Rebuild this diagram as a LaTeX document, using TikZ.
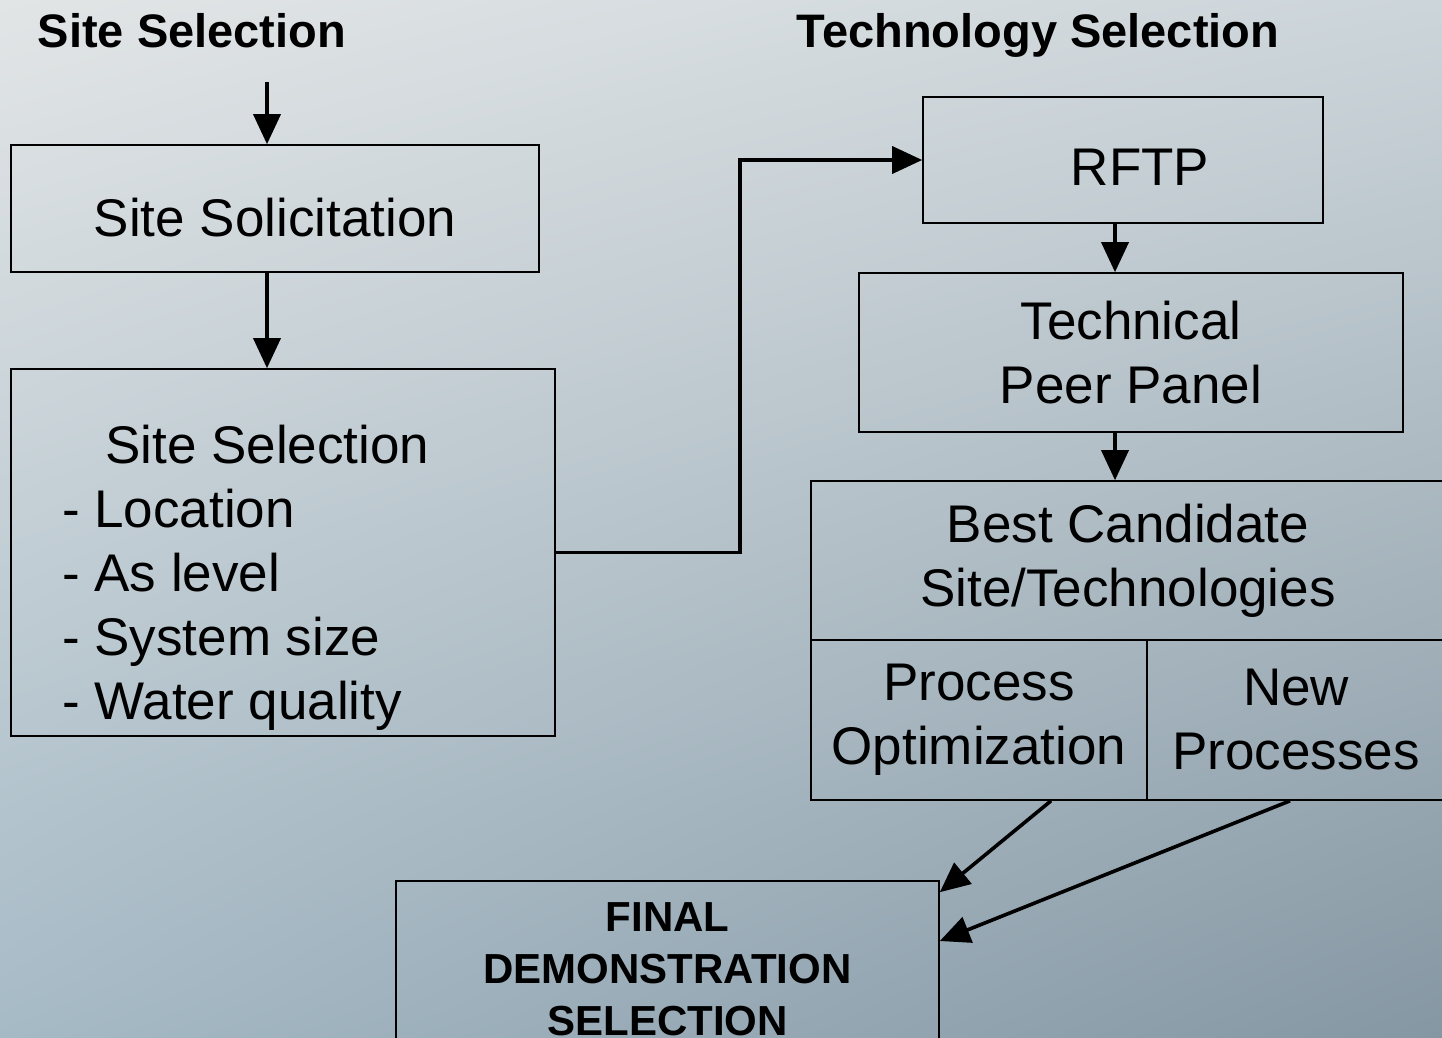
\documentclass[tikz,border=0pt]{standalone}
\usepackage{fontspec}
\setmainfont{Liberation Sans}
\usetikzlibrary{arrows.meta,positioning,shadings}
\definecolor{bgTL}{RGB}{226,229,230}
\definecolor{bgTR}{RGB}{204,213,218}
\definecolor{bgBL}{RGB}{166,186,198}
\definecolor{bgBR}{RGB}{133,151,163}
\tikzset{
  stepbox/.style={draw, line width=1.6pt, inner sep=0pt, align=center, font=\fontsize{53}{64}\selectfont},
  headtext/.style={inner sep=0pt, anchor=base, font=\fontsize{47}{56}\selectfont\bfseries},
  flowarrow/.style={line width=3.6pt, -{Triangle[length=30pt,width=27pt]}}
}

\begin{document}
\begin{tikzpicture}[x=1pt,y=-1pt]
  \useasboundingbox (0,0) rectangle (1442,1037);
  \shade[upper left=bgTL, upper right=bgTR, lower left=bgBL, lower right=bgBR] (0,0) rectangle (1442,1037);
  \clip (0,0) rectangle (1442,1037);

  % column headings
  \node[headtext] (sitehead) at (192,47) {Site Selection};
  \node[headtext] (techhead) at (1038,47) {Technology Selection};

  % site side
  \node[stepbox, minimum width=528pt, minimum height=127pt, text height=56pt, text depth=0pt] (sitesol) at (275,208.5) {Site Solicitation};
  \node[stepbox, minimum width=544pt, minimum height=367pt] (sitesel) at (283,552.5) {};
  \node[anchor=north west, inner sep=0pt, align=left, font=\fontsize{53}{64}\selectfont] (siteseltext) at (62,425)
    {\hspace*{43pt}Site Selection\\- Location\\- As level\\- System size\\- Water quality};

  % technology side
  \node[stepbox, minimum width=400pt, minimum height=126pt, text height=50pt, text depth=0pt] (rftp) at (1123,160) {\hspace*{34pt}RFTP};
  \node[stepbox, minimum width=544pt, minimum height=159pt] (tech) at (1131,352.5) {Technical\\Peer Panel};
  \node[stepbox, minimum width=634pt, minimum height=159pt] (best) at (1128,560.5) {Best Candidate\\Site/Technologies};
  \node[stepbox, minimum width=336pt, minimum height=160pt] (procopt) at (979,720) {Process\\Optimization};
  \node[stepbox, minimum width=298pt, minimum height=160pt] (newproc) at (1296,720) {New\\Processes};

  \node[stepbox, minimum width=543pt, minimum height=176pt, font=\fontsize{42}{52}\selectfont\bfseries] (final) at (667.5,969)
    {FINAL\\DEMONSTRATION\\SELECTION};

  % arrows
  \coordinate (feed) at (267,82);
  \coordinate (spine) at (1115,0);
  \draw[flowarrow] (feed) -- (feed |- sitesol.north);
  \draw[flowarrow] (sitesol.south -| feed) -- (sitesel.north -| feed);
  \draw[flowarrow] (sitesel.east) -- ++(184,0) |- (rftp.west);
  \draw[flowarrow] (rftp.south -| spine) -- (tech.north -| spine);
  \draw[flowarrow] (tech.south -| spine) -- (best.north -| spine);
  \draw[flowarrow] ([xshift=72pt]procopt.south) -- ([yshift=-12pt]final.north east);
  \draw[flowarrow] ([xshift=-6pt]newproc.south) -- ([yshift=28pt]final.east);
\end{tikzpicture}
\end{document}
